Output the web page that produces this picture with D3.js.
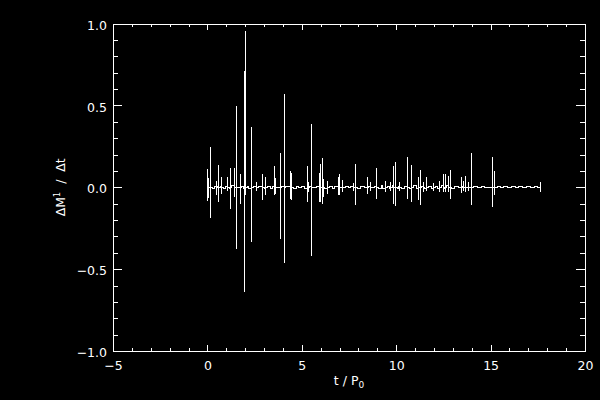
<!DOCTYPE html>
<html><head><meta charset="utf-8">
<script src="https://cdn.jsdelivr.net/npm/d3@7"></script>
<style>html,body{margin:0;padding:0;background:#000;} svg{display:block}</style>
</head><body><svg id="c" width="600" height="400"></svg>
<script>
// Tick values and labels
const xTicks = [-5, 0, 5, 10, 15, 20];
const xTickLabels = ["\u22125", "0", "5", "10", "15", "20"];
const yTicks = [-1, -0.5, 0, 0.5, 1];
const yTickLabels = ["\u22121.0", "\u22120.5", "0.0", "0.5", "1.0"];

// Spikes: time (t/P0), upward excursion, downward excursion
const spikeT  = [0.00,0.08,0.15,0.47,0.58,0.74,1.05,1.21,1.42,1.53,1.74,1.95,2.01,2.33,2.60,2.91,3.07,3.54,3.60,3.86,4.07,4.39,4.44,5.29,5.34,5.50,5.93,5.98,6.09,6.14,6.35,6.93,6.99,7.15,7.73,7.83,8.47,8.63,8.95,
                 9.42,9.72,9.88,9.95,10.20,10.59,10.80,11.17,11.28,11.44,11.60,11.98,12.30,12.50,12.60,12.76,12.87,13.46,13.56,13.66,13.82,13.98,15.09,15.20,17.65];
const spikeUp = [0.11,0.055,0.245,0.037,0.135,0.06,0.06,0.115,0.115,0.495,0.08,0.71,0.955,0.365,0.03,0.08,0.06,0.13,0.055,0.21,0.57,0.10,0.09,0.13,0.035,0.385,0.09,0.14,0.18,0.05,0.04,0.065,0.08,0.045,0.025,0.145,0.06,0.03,0.115,
                 0.04,0.035,0.13,0.155,0.03,0.185,0.135,0.06,0.105,0.03,0.06,0.025,0.04,0.08,0.08,0.07,0.105,0.06,0.04,0.07,0.035,0.21,0.185,0.10,0.03];
const spikeDn = [-0.085,-0.065,-0.19,-0.05,-0.09,-0.04,-0.02,-0.13,-0.06,-0.38,-0.10,-0.64,-0.05,-0.335,-0.02,-0.08,-0.05,-0.05,-0.04,-0.315,-0.46,-0.07,-0.08,-0.09,-0.03,-0.42,-0.09,-0.09,-0.10,-0.06,-0.04,-0.05,-0.045,-0.03,-0.02,-0.11,-0.04,-0.02,-0.07,
                 -0.03,-0.02,-0.10,-0.115,-0.025,-0.07,-0.09,-0.08,-0.11,-0.03,-0.02,-0.02,-0.03,-0.03,-0.03,-0.03,-0.07,-0.035,-0.02,-0.03,-0.02,-0.11,-0.12,-0.045,-0.03];

// Small baseline ripple between spikes
const rippleT = [0.05,0.25,0.35,0.55,0.7,0.85,0.95,1.15,1.3,1.6,1.8,1.9,2.1,2.2,2.45,2.7,2.8,3.0,3.2,3.35,3.45,3.7,3.95,4.15,4.25,4.55,4.7,4.85,5.0,5.15,
                 5.4,5.65,5.8,6.2,6.45,6.6,6.75,7.05,7.3,7.45,7.6,7.95,8.1,8.3,8.55,8.75,8.85,9.05,9.2,9.3,9.55,9.65,9.8,10.05,10.1,10.3,10.45,10.7,10.9,11.05,
                 11.35,11.5,11.7,11.85,12.1,12.2,12.4,12.55,12.68,12.95,13.1,13.3,13.5,13.75,14.1,14.3,14.5,14.7,14.9,15.35,15.5,15.7,15.9,16.1,16.3,16.5,16.7,16.9,17.1,17.3,17.5];
const rippleV = [0.006,-0.005,0.007,0.002,0.006,-0.007,0.003,-0.006,0.008,-0.004,
                 0.006,-0.007,0.003,-0.006,0.005,0.002,0.007,-0.005,0.003,-0.007,
                 0.006,-0.004,0.007,0.002,0.007,-0.005,0.004,0.001,0.006,-0.007,
                 0.003,-0.004,0.007,-0.005,0.002,-0.006,0.004,0.001,0.006,-0.004,
                 0.003,-0.005,0.004,0.001,0.007,-0.004,0.003,-0.007,0.009,-0.006,
                 0.007,-0.009,0.010,-0.007,0.005,-0.009,0.007,-0.005,0.009,-0.007,
                 0.005,-0.010,0.007,-0.005,0.007,-0.009,0.010,-0.007,0.009,-0.005,
                 0.006,0.001,0.005,0.001,0.006,0.001,0.005,-0.004,0.001,0.006,
                 0.001,0.006,0.001,0.005,0.001,0.006,0.001,0.005,0.001,0.006,
                 0.001];

const svg = d3.select("#c");
svg.append("rect").attr("width", 600).attr("height", 400).attr("fill", "#000");

const L = 113, R = 585, T = 23.5, B = 351;
const x = d3.scaleLinear().domain([-5, 20]).range([L, R]);
const y = d3.scaleLinear().domain([-1, 1]).range([B, T]);

// Build series
const groups = [];
spikeT.forEach((t, i) => groups.push({t, pts: [{t, v: 0}, {t, v: spikeUp[i]}, {t, v: spikeDn[i]}, {t, v: 0}]}));
rippleT.forEach((t, i) => groups.push({t, pts: [{t, v: rippleV[i]}]}));
groups.sort((a, b) => a.t - b.t);
const series = groups.flatMap(g => g.pts);

const font = "'DejaVu Sans', sans-serif";

function styleAxis(g) {
  g.select(".domain").attr("stroke", "#fff").attr("stroke-width", 1);
  g.selectAll(".tick line").attr("stroke", "#fff").attr("stroke-width", 1);
  g.selectAll(".tick text").attr("fill", "#fff").attr("font-family", font).attr("font-size", 12.5);
  g.attr("shape-rendering", "crispEdges");
}

const xMinor = d3.range(-5, 20.01, 1).filter(v => v % 5 !== 0);
const yMinor = d3.range(-10, 10.01, 1).filter(v => v % 5 !== 0).map(v => v / 10);

// Bottom
svg.append("g").attr("transform", `translate(0,${B})`)
  .call(d3.axisBottom(x).tickValues(xTicks).tickSize(-6.5).tickSizeOuter(0).tickPadding(10)
        .tickFormat((d, i) => xTickLabels[i])).call(styleAxis);
svg.append("g").attr("transform", `translate(0,${B})`)
  .call(d3.axisBottom(x).tickValues(xMinor).tickSize(-3.3).tickSizeOuter(0).tickFormat("")).call(styleAxis);
// Top
svg.append("g").attr("transform", `translate(0,${T})`)
  .call(d3.axisTop(x).tickValues(xTicks).tickSize(-6.5).tickSizeOuter(0).tickFormat("")).call(styleAxis);
svg.append("g").attr("transform", `translate(0,${T})`)
  .call(d3.axisTop(x).tickValues(xMinor).tickSize(-3.3).tickSizeOuter(0).tickFormat("")).call(styleAxis);
// Left
const gl = svg.append("g").attr("transform", `translate(${L},0)`)
  .call(d3.axisLeft(y).tickValues(yTicks).tickSize(-9).tickSizeOuter(0).tickPadding(6)
        .tickFormat((d, i) => yTickLabels[i])).call(styleAxis);
gl.selectAll(".tick text").attr("dy", "0.45em");
svg.append("g").attr("transform", `translate(${L},0)`)
  .call(d3.axisLeft(y).tickValues(yMinor).tickSize(-5).tickSizeOuter(0).tickFormat("")).call(styleAxis);
// Right
svg.append("g").attr("transform", `translate(${R},0)`)
  .call(d3.axisRight(y).tickValues(yTicks).tickSize(-9).tickSizeOuter(0).tickFormat("")).call(styleAxis);
svg.append("g").attr("transform", `translate(${R},0)`)
  .call(d3.axisRight(y).tickValues(yMinor).tickSize(-5).tickSizeOuter(0).tickFormat("")).call(styleAxis);

// Data line
svg.append("path").datum(series)
  .attr("d", d3.line().curve(d3.curveStepAfter).x(d => x(d.t)).y(d => y(d.v)))
  .attr("fill", "none").attr("stroke", "#fff").attr("stroke-width", 1)
  .attr("shape-rendering", "crispEdges");

// Axis titles
const xt = svg.append("text").attr("x", (L + R) / 2).attr("y", 385).attr("text-anchor", "middle")
  .attr("fill", "#fff").attr("font-family", font).attr("font-size", 12.5).style("white-space", "pre");
xt.append("tspan").text("t / P");
xt.append("tspan").attr("font-size", 9).attr("dy", 3).text("0");

const yt = svg.append("text").attr("transform", `translate(65,${(T + B) / 2}) rotate(-90)`)
  .attr("text-anchor", "middle").attr("fill", "#fff").attr("font-family", font).attr("font-size", 12.5)
  .style("white-space", "pre");
yt.append("tspan").text("\u0394M");
yt.append("tspan").attr("font-size", 8).attr("dy", -5).text("1");
yt.append("tspan").attr("dy", 5).text("  /  \u0394t");
</script></body></html>
